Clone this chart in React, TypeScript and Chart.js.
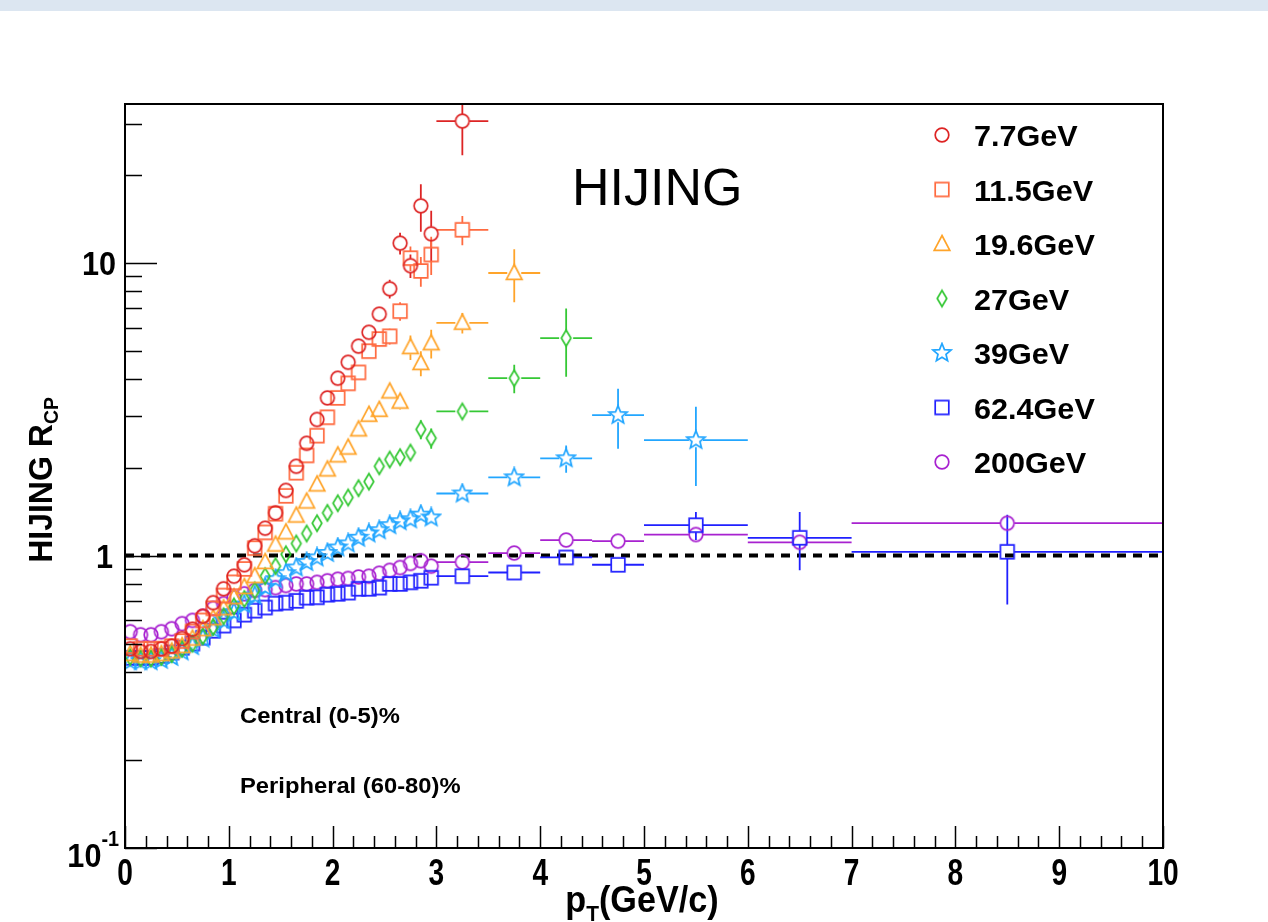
import React, { useEffect, useRef } from "react";
import { Chart, registerables } from "chart.js";

Chart.register(...registerables);

// pT bin centres (GeV/c): fine bins up to 3 GeV/c, then wide bins
const ptFine = [
  0.05, 0.15, 0.25, 0.35, 0.45, 0.55, 0.65, 0.75, 0.85, 0.95,
  1.05, 1.15, 1.25, 1.35, 1.45, 1.55, 1.65, 1.75, 1.85, 1.95,
  2.05, 2.15, 2.25, 2.35, 2.45, 2.55, 2.65, 2.75, 2.85, 2.95,
];
const ptFineHalfWidth = 0.05;
const ptWide = [3.25, 3.75, 4.25, 4.75, 5.5, 6.5, 8.5];
const ptWideHalfWidth = [0.25, 0.25, 0.25, 0.25, 0.5, 0.5, 1.5];

const energyLabels = ["7.7GeV", "11.5GeV", "19.6GeV", "27GeV", "39GeV", "62.4GeV", "200GeV"];
const energyColors = ["#dd2424", "#ff6a3f", "#ffa42a", "#35c835", "#22a6ff", "#2020ff", "#a822d0"];
const energyMarkers = ["circle", "square", "triangle", "diamond", "star", "square", "circle"];

// R_CP values and statistical errors, 7.7 GeV
const rcp7p7 = [
  0.48, 0.47, 0.47, 0.48, 0.49, 0.52, 0.56, 0.62, 0.69, 0.77,
  0.85, 0.93, 1.08, 1.24, 1.4, 1.67, 2.02, 2.42, 2.92, 3.46,
  4.04, 4.58, 5.2, 5.8, 6.69, 8.17, 11.7, 9.8, 15.7, 12.6,
];
const err7p7 = [
  0.01, 0.01, 0.01, 0.01, 0.01, 0.01, 0.01, 0.01, 0.01, 0.02,
  0.02, 0.02, 0.03, 0.03, 0.04, 0.05, 0.06, 0.08, 0.1, 0.12,
  0.15, 0.18, 0.22, 0.3, 0.35, 0.6, 1.0, 0.9, 2.9, 2.5,
];
const rcp7p7Wide = [30.6];
const err7p7Wide = [7.2];

// 11.5 GeV
const rcp11p5 = [
  0.49, 0.48, 0.48, 0.48, 0.49, 0.51, 0.55, 0.6, 0.66, 0.73,
  0.81, 0.9, 1.06, 1.2, 1.39, 1.6, 1.92, 2.2, 2.57, 2.97,
  3.46, 3.88, 4.23, 5.0, 5.5, 5.62, 6.85, 10.4, 9.4, 10.7,
];
const err11p5 = [
  0.01, 0.01, 0.01, 0.01, 0.01, 0.01, 0.01, 0.01, 0.01, 0.02,
  0.02, 0.02, 0.03, 0.03, 0.04, 0.05, 0.06, 0.07, 0.08, 0.1,
  0.12, 0.15, 0.18, 0.25, 0.3, 0.35, 0.5, 1.0, 1.1, 1.6,
];
const rcp11p5Wide = [13.0];
const err11p5Wide = [1.5];

// 19.6 GeV
const rcp19p6 = [
  0.46, 0.455, 0.455, 0.46, 0.47, 0.49, 0.52, 0.56, 0.61, 0.66,
  0.72, 0.78, 0.85, 0.95, 1.09, 1.2, 1.37, 1.53, 1.75, 1.97,
  2.2, 2.34, 2.7, 3.03, 3.15, 3.64, 3.36, 5.16, 4.55, 5.32,
];
const err19p6 = [
  0.01, 0.01, 0.01, 0.01, 0.01, 0.01, 0.01, 0.01, 0.01, 0.01,
  0.01, 0.01, 0.02, 0.02, 0.02, 0.03, 0.03, 0.04, 0.05, 0.05,
  0.06, 0.07, 0.08, 0.1, 0.12, 0.15, 0.2, 0.5, 0.45, 0.6,
];
const rcp19p6Wide = [6.25, 9.25];
const err19p6Wide = [0.5, 1.9];

// 27 GeV
const rcp27 = [
  0.45, 0.445, 0.445, 0.45, 0.46, 0.48, 0.5, 0.53, 0.57, 0.62,
  0.67, 0.71, 0.76, 0.85, 0.92, 1.01, 1.1, 1.19, 1.29, 1.4,
  1.51, 1.58, 1.7, 1.79, 2.02, 2.13, 2.17, 2.25, 2.7, 2.52,
];
const err27 = [
  0.01, 0.01, 0.01, 0.01, 0.01, 0.01, 0.01, 0.01, 0.01, 0.01,
  0.01, 0.01, 0.01, 0.01, 0.02, 0.02, 0.02, 0.02, 0.03, 0.03,
  0.03, 0.04, 0.04, 0.05, 0.05, 0.06, 0.07, 0.08, 0.2, 0.2,
];
const rcp27Wide = [3.11, 4.04, 5.54];
const err27Wide = [0.15, 0.45, 1.45];

// 39 GeV
const rcp39 = [
  0.435, 0.435, 0.435, 0.44, 0.45, 0.47, 0.49, 0.52, 0.56, 0.6,
  0.64, 0.68, 0.73, 0.78, 0.83, 0.87, 0.91, 0.95, 0.985, 1.02,
  1.065, 1.1, 1.15, 1.19, 1.22, 1.27, 1.31, 1.33, 1.38, 1.35,
];
const err39 = [
  0.01, 0.01, 0.01, 0.01, 0.01, 0.01, 0.01, 0.01, 0.01, 0.01,
  0.01, 0.01, 0.01, 0.01, 0.01, 0.01, 0.01, 0.01, 0.01, 0.02,
  0.02, 0.02, 0.02, 0.02, 0.03, 0.03, 0.03, 0.04, 0.05, 0.06,
];
const rcp39Wide = [1.63, 1.85, 2.15, 3.02, 2.48];
const err39Wide = [0.05, 0.08, 0.23, 0.7, 0.75];

// 62.4 GeV
const rcp62p4 = [
  0.447, 0.447, 0.447, 0.454, 0.466, 0.484, 0.5, 0.524, 0.553, 0.576,
  0.6, 0.628, 0.648, 0.664, 0.685, 0.69, 0.7, 0.718, 0.72, 0.735,
  0.74, 0.747, 0.77, 0.77, 0.777, 0.8, 0.8, 0.81, 0.82, 0.84,
];
const err62p4 = [
  0.005, 0.005, 0.005, 0.005, 0.005, 0.005, 0.005, 0.005, 0.005, 0.005,
  0.005, 0.005, 0.005, 0.005, 0.005, 0.005, 0.006, 0.006, 0.006, 0.007,
  0.007, 0.008, 0.008, 0.009, 0.01, 0.01, 0.011, 0.012, 0.013, 0.015,
];
const rcp62p4Wide = [0.85, 0.875, 0.985, 0.93, 1.27, 1.15, 1.03];
const err62p4Wide = [0.02, 0.03, 0.03, 0.04, 0.14, 0.26, 0.35];

// 200 GeV
const rcp200 = [
  0.549, 0.536, 0.536, 0.549, 0.562, 0.585, 0.6, 0.62, 0.66, 0.685,
  0.718, 0.74, 0.76, 0.765, 0.777, 0.79, 0.8, 0.8, 0.81, 0.82,
  0.83, 0.835, 0.845, 0.85, 0.87, 0.89, 0.91, 0.94, 0.96, 0.92,
];
const err200 = [
  0.005, 0.005, 0.005, 0.005, 0.005, 0.005, 0.005, 0.005, 0.005, 0.005,
  0.005, 0.005, 0.005, 0.005, 0.005, 0.005, 0.005, 0.005, 0.006, 0.006,
  0.006, 0.006, 0.007, 0.007, 0.008, 0.008, 0.009, 0.01, 0.01, 0.01,
];
const rcp200Wide = [0.95, 1.02, 1.13, 1.12, 1.18, 1.11, 1.29];
const err200Wide = [0.02, 0.02, 0.02, 0.02, 0.03, 0.03, 0.05];

const seriesFine = [rcp7p7, rcp11p5, rcp19p6, rcp27, rcp39, rcp62p4, rcp200];
const seriesFineErr = [err7p7, err11p5, err19p6, err27, err39, err62p4, err200];
const seriesWide = [rcp7p7Wide, rcp11p5Wide, rcp19p6Wide, rcp27Wide, rcp39Wide, rcp62p4Wide, rcp200Wide];
const seriesWideErr = [err7p7Wide, err11p5Wide, err19p6Wide, err27Wide, err39Wide, err62p4Wide, err200Wide];

// axis ticks
const xTickValues = [0, 1, 2, 3, 4, 5, 6, 7, 8, 9, 10];
const xTickLabels = ["0", "1", "2", "3", "4", "5", "6", "7", "8", "9", "10"];
const yMajorTicks = [0.1, 1, 10];
const yMinorTicks = [0.2, 0.3, 0.4, 0.5, 0.6, 0.7, 0.8, 0.9, 2, 3, 4, 5, 6, 7, 8, 9, 20, 30];

const FONT = '"Liberation Sans", Arial, sans-serif';
const MARKER_HALF = 11;

function makeMarker(shape: string, color: string): HTMLCanvasElement {
  const c = document.createElement("canvas");
  c.width = MARKER_HALF * 2;
  c.height = MARKER_HALF * 2;
  const g = c.getContext("2d")!;
  const m = MARKER_HALF;
  g.strokeStyle = color;
  g.lineWidth = 1.7;
  g.beginPath();
  if (shape === "circle") {
    g.arc(m, m, 6.8, 0, Math.PI * 2);
  } else if (shape === "square") {
    g.rect(m - 6.8, m - 6.8, 13.6, 13.6);
  } else if (shape === "triangle") {
    g.moveTo(m, m - 8.5);
    g.lineTo(m + 7.8, m + 6.3);
    g.lineTo(m - 7.8, m + 6.3);
    g.closePath();
  } else if (shape === "diamond") {
    g.moveTo(m, m - 8);
    g.lineTo(m + 4.8, m);
    g.lineTo(m, m + 8);
    g.lineTo(m - 4.8, m);
    g.closePath();
  } else if (shape === "star") {
    for (let k = 0; k < 10; k++) {
      const r = k % 2 === 0 ? 9.5 : 4.2;
      const a = -Math.PI / 2 + (k * Math.PI) / 5;
      const px = m + r * Math.cos(a);
      const py = m + r * Math.sin(a);
      if (k === 0) g.moveTo(px, py);
      else g.lineTo(px, py);
    }
    g.closePath();
  }
  g.stroke();
  return c;
}

function drawText(
  ctx: CanvasRenderingContext2D,
  text: string,
  x: number,
  y: number,
  size: number,
  opts: { bold?: boolean; align?: "left" | "center" | "right"; sx?: number } = {}
) {
  const sx = opts.sx ?? 1;
  ctx.save();
  ctx.font = `${opts.bold ? "bold " : ""}${size}px ${FONT}`;
  ctx.textBaseline = "alphabetic";
  ctx.textAlign = "left";
  const w = ctx.measureText(text).width * sx;
  let x0 = x;
  if (opts.align === "center") x0 = x - w / 2;
  else if (opts.align === "right") x0 = x - w;
  ctx.translate(x0, y);
  ctx.scale(sx, 1);
  ctx.fillStyle = "#000";
  ctx.fillText(text, 0, 0);
  ctx.restore();
  return w;
}

function textWidth(ctx: CanvasRenderingContext2D, text: string, size: number, bold: boolean, sx: number) {
  ctx.save();
  ctx.font = `${bold ? "bold " : ""}${size}px ${FONT}`;
  const w = ctx.measureText(text).width * sx;
  ctx.restore();
  return w;
}

export default function App() {
  const ref = useRef<HTMLCanvasElement>(null);

  useEffect(() => {
    const canvas = ref.current!;
    const markerImgs = energyMarkers.map((s, i) => makeMarker(s, energyColors[i]));

    const datasets = seriesFine.map((vals, i) => {
      const pts: { x: number; y: number; xe: number; ye: number }[] = [];
      vals.forEach((v, j) => pts.push({ x: ptFine[j], y: v, xe: ptFineHalfWidth, ye: seriesFineErr[i][j] }));
      seriesWide[i].forEach((v, j) => pts.push({ x: ptWide[j], y: v, xe: ptWideHalfWidth[j], ye: seriesWideErr[i][j] }));
      return {
        label: energyLabels[i],
        data: pts,
        pointStyle: markerImgs[i] as any,
        pointRadius: 7,
        borderColor: energyColors[i],
        backgroundColor: "transparent",
        showLine: false,
      };
    });

    const background = {
      id: "background",
      beforeDraw(chart: any) {
        const ctx = chart.ctx as CanvasRenderingContext2D;
        ctx.save();
        ctx.fillStyle = "#ffffff";
        ctx.fillRect(0, 0, chart.width, chart.height);
        ctx.fillStyle = "#dce6f1";
        ctx.fillRect(0, 0, chart.width, 11);
        ctx.restore();
      },
    };

    const errorBars = {
      id: "errorBars",
      beforeDatasetsDraw(chart: any) {
        const ctx = chart.ctx as CanvasRenderingContext2D;
        const xs = chart.scales.x;
        const ys = chart.scales.y;
        const area = chart.chartArea;
        ctx.save();
        ctx.beginPath();
        ctx.rect(area.left, area.top, area.right - area.left, area.bottom - area.top);
        ctx.clip();

        // reference line at R_CP = 1
        const y1 = ys.getPixelForValue(1);
        ctx.strokeStyle = "#000";
        ctx.lineWidth = 4;
        ctx.setLineDash([9, 7]);
        ctx.beginPath();
        ctx.moveTo(area.left, y1);
        ctx.lineTo(area.right, y1);
        ctx.stroke();
        ctx.setLineDash([]);

        const gap = 7;
        chart.data.datasets.forEach((ds: any, i: number) => {
          ctx.strokeStyle = energyColors[i];
          ctx.lineWidth = 1.8;
          ds.data.forEach((p: any) => {
            const px = xs.getPixelForValue(p.x);
            const py = ys.getPixelForValue(p.y);
            const xl = xs.getPixelForValue(p.x - p.xe);
            const xr = xs.getPixelForValue(p.x + p.xe);
            const yt = ys.getPixelForValue(p.y + p.ye);
            const yb = ys.getPixelForValue(Math.max(p.y - p.ye, 0.001));
            ctx.beginPath();
            if (px - xl > gap) {
              ctx.moveTo(xl, py);
              ctx.lineTo(px - gap, py);
              ctx.moveTo(px + gap, py);
              ctx.lineTo(xr, py);
            }
            if (py - yt > gap) {
              ctx.moveTo(px, yt);
              ctx.lineTo(px, py - gap);
            }
            if (yb - py > gap) {
              ctx.moveTo(px, py + gap);
              ctx.lineTo(px, yb);
            }
            ctx.stroke();
          });
        });
        ctx.restore();
      },
    };

    const frameAndText = {
      id: "frameAndText",
      afterDraw(chart: any) {
        const ctx = chart.ctx as CanvasRenderingContext2D;
        const xs = chart.scales.x;
        const ys = chart.scales.y;
        const a = chart.chartArea;
        ctx.save();
        ctx.strokeStyle = "#000";
        ctx.lineWidth = 2;
        ctx.strokeRect(a.left, a.top, a.right - a.left, a.bottom - a.top);

        // x ticks
        ctx.lineWidth = 1.5;
        ctx.beginPath();
        for (let k = 0; k <= 50; k++) {
          const v = k * 0.2;
          const px = Math.round(xs.getPixelForValue(v)) + 0.5;
          const len = k % 5 === 0 ? 22 : 12;
          ctx.moveTo(px, a.bottom);
          ctx.lineTo(px, a.bottom - len);
        }
        // y ticks
        yMajorTicks.forEach((v) => {
          const py = Math.round(ys.getPixelForValue(v)) + 0.5;
          ctx.moveTo(a.left, py);
          ctx.lineTo(a.left + 32, py);
        });
        yMinorTicks.forEach((v) => {
          const py = Math.round(ys.getPixelForValue(v)) + 0.5;
          ctx.moveTo(a.left, py);
          ctx.lineTo(a.left + 17, py);
        });
        ctx.stroke();

        // x tick labels
        xTickValues.forEach((v, i) => {
          drawText(ctx, xTickLabels[i], xs.getPixelForValue(v), 885, 36, { bold: true, align: "center", sx: 0.78 });
        });
        // y tick labels
        const y10 = ys.getPixelForValue(10);
        const y1 = ys.getPixelForValue(1);
        const y01 = ys.getPixelForValue(0.1);
        drawText(ctx, "10", 116, y10 + 12, 34, { bold: true, align: "right", sx: 0.9 });
        drawText(ctx, "1", 113, y1 + 12, 34, { bold: true, align: "right", sx: 0.9 });
        const wExp = drawText(ctx, "-1", 119, y01 - 2, 22, { bold: true, align: "right", sx: 0.9 });
        drawText(ctx, "10", 119 - wExp, y01 + 19, 34, { bold: true, align: "right", sx: 0.9 });

        // x axis title: p_T(GeV/c)
        {
          const size = 36;
          const sx = 0.95;
          const wP = textWidth(ctx, "p", size, true, sx);
          const wT = textWidth(ctx, "T", 22, true, sx);
          const wR = textWidth(ctx, "(GeV/c)", size, true, sx);
          const total = wP + wT + wR;
          const x0 = 642 - total / 2;
          const base = 912;
          drawText(ctx, "p", x0, base, size, { bold: true, sx });
          drawText(ctx, "T", x0 + wP, base + 9, 22, { bold: true, sx });
          drawText(ctx, "(GeV/c)", x0 + wP + wT, base, size, { bold: true, sx });
        }

        // y axis title: HIJING R_CP (rotated)
        {
          ctx.save();
          ctx.translate(52, 480);
          ctx.rotate(-Math.PI / 2);
          const size = 33;
          const sx = 0.97;
          const wMain = textWidth(ctx, "HIJING R", size, true, sx);
          const wSub = textWidth(ctx, "CP", 20, true, sx);
          const x0 = -(wMain + wSub) / 2;
          drawText(ctx, "HIJING R", x0, 0, size, { bold: true, sx });
          drawText(ctx, "CP", x0 + wMain, 6, 20, { bold: true, sx });
          ctx.restore();
        }

        // model label
        drawText(ctx, "HIJING", 572, 205, 52, { bold: false, sx: 1 });

        // centrality classes
        drawText(ctx, "Central (0-5)%", 240, 723, 22, { bold: true, sx: 1.08 });
        drawText(ctx, "Peripheral (60-80)%", 240, 793, 22, { bold: true, sx: 1.08 });

        // legend
        energyLabels.forEach((lab, i) => {
          const cy = 135 + i * 54.5;
          ctx.drawImage(markerImgs[i], 942 - MARKER_HALF, cy - MARKER_HALF);
          drawText(ctx, lab, 974, cy + 11, 30, { bold: true, sx: 1.02 });
        });
        ctx.restore();
      },
    };

    const chart = new Chart(canvas, {
      type: "scatter",
      data: { datasets: datasets as any },
      options: {
        responsive: false,
        animation: false,
        devicePixelRatio: 1,
        events: [],
        layout: { padding: { left: 125, right: 105, top: 104, bottom: 74 } },
        plugins: { legend: { display: false }, tooltip: { enabled: false } },
        scales: {
          x: { type: "linear", min: 0, max: 10, display: false },
          y: { type: "logarithmic", min: 0.1, max: 35, display: false },
        },
      },
      plugins: [background, errorBars, frameAndText],
    });
    return () => chart.destroy();
  }, []);

  return (
    <div style={{ position: "absolute", left: 0, top: 0, width: 1268, height: 922 }}>
      <canvas ref={ref} width={1268} height={922} style={{ display: "block" }} />
    </div>
  );
}
